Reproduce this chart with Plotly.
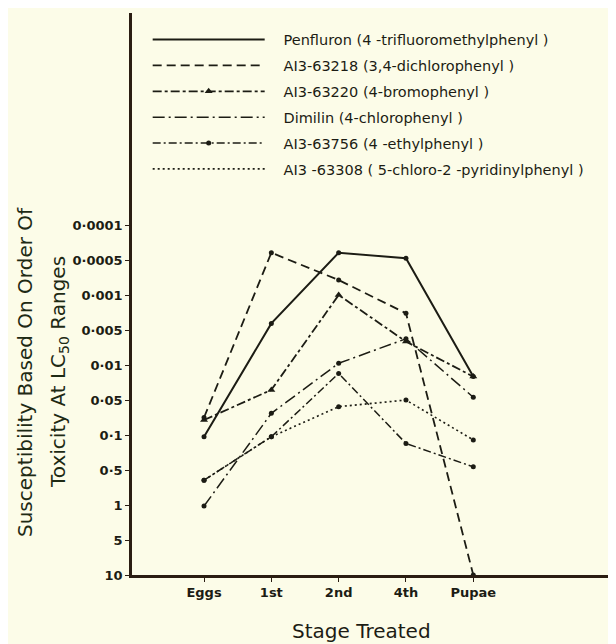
import plotly.graph_objects as go

# Stages treated (x categories)
stages = ["Eggs", "1st", "2nd", "4th", "Pupae"]

# Ordinal LC50 scale (bottom -> top); values below are positions on this scale
scale_labels = ["10", "5", "1", "0·5", "0·1", "0·05", "0·01", "0·005", "0·001", "0·0005", "0·0001"]
scale_pos = list(range(len(scale_labels)))

# Series: position on the ordinal susceptibility scale (0 = 10, 10 = 0·0001)
penfluron = [3.95, 7.19, 9.21, 9.05, 5.67]
ai3_63218 = [4.5, 9.21, 8.43, 7.48, 0.0]
ai3_63220 = [4.43, 5.29, 8.0, 6.67, 5.67]
dimilin = [1.97, 4.62, 6.05, 6.75, 5.08]
ai3_63756 = [2.71, 3.95, 5.76, 3.76, 3.09]
ai3_63308 = [2.71, 3.95, 4.81, 5.0, 3.86]

names = [
    "Penfluron (4 -trifluoromethylphenyl )",
    "AI3-63218 (3,4-dichlorophenyl )",
    "AI3-63220 (4-bromophenyl )",
    "Dimilin (4-chlorophenyl )",
    "AI3-63756 (4 -ethylphenyl )",
    "AI3 -63308 ( 5-chloro-2 -pyridinylphenyl )",
]

x = list(range(len(stages)))
ink = "#1c1c14"
axis_col = "#2a1d12"
pad = "\u00a0\u00a0\u00a0"

fig = go.Figure()

styles = [
    (penfluron, dict(dash="solid", width=2), None),
    (ai3_63218, dict(dash="9px,5px", width=1.8), None),
    (ai3_63220, dict(dash="dashdot", width=1.8), dict(symbol="triangle-up", size=7)),
    (dimilin, dict(dash="12px,4px,2px,4px", width=1.5), None),
    (ai3_63756, dict(dash="8px,3px,2px,3px", width=1.5), dict(symbol="circle", size=5)),
    (ai3_63308, dict(dash="2px,3px", width=1.6), None),
]

for i, (vals, ln, mk) in enumerate(styles):
    line = dict(color=ink, **ln)
    if mk is not None:
        fig.add_trace(go.Scatter(x=x, y=vals, name=pad + names[i], mode="lines+markers",
                                 line=line, marker=dict(color=ink, **mk),
                                 legendgroup=str(i), cliponaxis=False))
    else:
        fig.add_trace(go.Scatter(x=x, y=vals, name=pad + names[i], mode="lines",
                                 line=line, legendgroup=str(i), cliponaxis=False))
        fig.add_trace(go.Scatter(x=x, y=vals, mode="markers", showlegend=False,
                                 marker=dict(color=ink, size=5), legendgroup=str(i),
                                 cliponaxis=False, hoverinfo="skip"))

title_col = "#1e2a14"

fig.update_layout(
    width=608, height=636,
    margin=dict(l=124, r=0, t=5, b=69),
    paper_bgcolor="#fcfce8",
    plot_bgcolor="#fcfce8",
    font=dict(family="DejaVu Sans", color=ink),
    showlegend=True,
    legend=dict(x=0.0324, y=0.981, xanchor="left", yanchor="top",
                bgcolor="rgba(0,0,0,0)", itemwidth=112, tracegroupgap=4,
                font=dict(size=14.5, color=ink), itemclick=False),
    xaxis=dict(
        range=[-1.07, 6.12], tickmode="array", tickvals=x, ticktext=stages,
        showline=True, linecolor=axis_col, linewidth=2.5, showgrid=False,
        zeroline=False, ticks="outside", ticklen=4, tickcolor=axis_col,
        automargin=False,
        tickfont=dict(size=13, family="DejaVu Sans", color=ink, weight="bold"),
    ),
    yaxis=dict(
        range=[0, 16.06], tickmode="array", tickvals=scale_pos, ticktext=scale_labels,
        showline=True, linecolor=axis_col, linewidth=2.5, showgrid=False,
        zeroline=False, ticks="outside", ticklen=4, tickcolor=axis_col,
        automargin=False,
        tickfont=dict(size=13, family="DejaVu Sans", color=ink, weight="bold"),
    ),
    annotations=[
        dict(text="Susceptibility Based On Order Of", textangle=-90,
             xref="paper", yref="paper", x=(25 - 132) / 484, y=(575 - 372) / 562,
             xanchor="center", yanchor="middle", showarrow=False,
             font=dict(size=20, color=title_col)),
        dict(text="Toxicity At LC<sub>50</sub> Ranges", textangle=-90,
             xref="paper", yref="paper", x=(59 - 132) / 484, y=(575 - 372) / 562,
             xanchor="center", yanchor="middle", showarrow=False,
             font=dict(size=20, color=title_col)),
        dict(text="Stage Treated",
             xref="paper", yref="paper", x=(361 - 132) / 484, y=(575 - 631) / 562,
             xanchor="center", yanchor="middle", showarrow=False,
             font=dict(size=20, color=ink)),
    ],
)

fig.write_html("out.html")
